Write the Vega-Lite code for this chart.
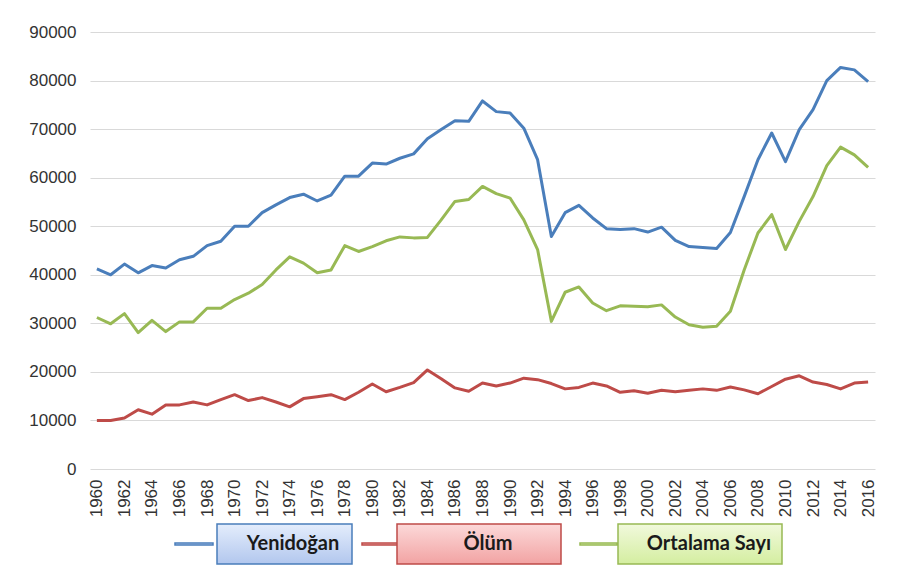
{
  "$schema": "https://vega.github.io/schema/vega-lite/v6.json",
  "width": 785,
  "height": 437,
  "autosize": "none",
  "padding": {"left": 90, "top": 32, "right": 43, "bottom": 114},
  "background": "white",
  "config": {
    "view": {"stroke": null},
    "font": "Liberation Sans",
    "axis": {"labelFont": "Liberation Sans", "labelFontSize": 17, "labelColor": "#333333", "title": null, "ticks": false, "domain": false}
  },
  "data": {
    "values": [
      {"year": 1960, "yenidogan": 41200, "olum": 10000, "ortalama": 31200},
      {"year": 1961, "yenidogan": 40000, "olum": 10000, "ortalama": 29900},
      {"year": 1962, "yenidogan": 42200, "olum": 10500, "ortalama": 32000},
      {"year": 1963, "yenidogan": 40400, "olum": 12200, "ortalama": 28100},
      {"year": 1964, "yenidogan": 41900, "olum": 11300, "ortalama": 30600},
      {"year": 1965, "yenidogan": 41400, "olum": 13200, "ortalama": 28300},
      {"year": 1966, "yenidogan": 43100, "olum": 13200, "ortalama": 30300},
      {"year": 1967, "yenidogan": 43800, "olum": 13800, "ortalama": 30300},
      {"year": 1968, "yenidogan": 46000, "olum": 13200, "ortalama": 33100},
      {"year": 1969, "yenidogan": 46900, "olum": 14300, "ortalama": 33100},
      {"year": 1970, "yenidogan": 50000, "olum": 15300, "ortalama": 34900},
      {"year": 1971, "yenidogan": 50000, "olum": 14100, "ortalama": 36200},
      {"year": 1972, "yenidogan": 52800, "olum": 14700, "ortalama": 38000},
      {"year": 1973, "yenidogan": 54400, "olum": 13800, "ortalama": 41000},
      {"year": 1974, "yenidogan": 55900, "olum": 12800, "ortalama": 43700},
      {"year": 1975, "yenidogan": 56600, "olum": 14500, "ortalama": 42400},
      {"year": 1976, "yenidogan": 55200, "olum": 14900, "ortalama": 40400},
      {"year": 1977, "yenidogan": 56400, "olum": 15300, "ortalama": 41000},
      {"year": 1978, "yenidogan": 60300, "olum": 14300, "ortalama": 46000},
      {"year": 1979, "yenidogan": 60300, "olum": 15800, "ortalama": 44800},
      {"year": 1980, "yenidogan": 63000, "olum": 17500, "ortalama": 45800},
      {"year": 1981, "yenidogan": 62800, "olum": 15900, "ortalama": 47000},
      {"year": 1982, "yenidogan": 64000, "olum": 16800, "ortalama": 47800},
      {"year": 1983, "yenidogan": 64900, "olum": 17800, "ortalama": 47600},
      {"year": 1984, "yenidogan": 68000, "olum": 20400, "ortalama": 47700},
      {"year": 1985, "yenidogan": 69900, "olum": 18600, "ortalama": 51300},
      {"year": 1986, "yenidogan": 71700, "olum": 16700, "ortalama": 55100},
      {"year": 1987, "yenidogan": 71600, "olum": 16000, "ortalama": 55500},
      {"year": 1988, "yenidogan": 75800, "olum": 17700, "ortalama": 58200},
      {"year": 1989, "yenidogan": 73600, "olum": 17100, "ortalama": 56700},
      {"year": 1990, "yenidogan": 73300, "olum": 17700, "ortalama": 55800},
      {"year": 1991, "yenidogan": 70200, "olum": 18700, "ortalama": 51300},
      {"year": 1992, "yenidogan": 63700, "olum": 18400, "ortalama": 45200},
      {"year": 1993, "yenidogan": 47900, "olum": 17600, "ortalama": 30400},
      {"year": 1994, "yenidogan": 52800, "olum": 16500, "ortalama": 36400},
      {"year": 1995, "yenidogan": 54300, "olum": 16800, "ortalama": 37500},
      {"year": 1996, "yenidogan": 51700, "olum": 17700, "ortalama": 34200},
      {"year": 1997, "yenidogan": 49500, "olum": 17100, "ortalama": 32600},
      {"year": 1998, "yenidogan": 49300, "olum": 15800, "ortalama": 33600},
      {"year": 1999, "yenidogan": 49500, "olum": 16100, "ortalama": 33500},
      {"year": 2000, "yenidogan": 48800, "olum": 15600, "ortalama": 33400},
      {"year": 2001, "yenidogan": 49800, "olum": 16200, "ortalama": 33800},
      {"year": 2002, "yenidogan": 47100, "olum": 15900, "ortalama": 31300},
      {"year": 2003, "yenidogan": 45800, "olum": 16200, "ortalama": 29700},
      {"year": 2004, "yenidogan": 45600, "olum": 16500, "ortalama": 29200},
      {"year": 2005, "yenidogan": 45400, "olum": 16200, "ortalama": 29400},
      {"year": 2006, "yenidogan": 48700, "olum": 16900, "ortalama": 32500},
      {"year": 2007, "yenidogan": 56100, "olum": 16300, "ortalama": 41000},
      {"year": 2008, "yenidogan": 63700, "olum": 15500, "ortalama": 48600},
      {"year": 2009, "yenidogan": 69200, "olum": 17000, "ortalama": 52400},
      {"year": 2010, "yenidogan": 63300, "olum": 18500, "ortalama": 45200},
      {"year": 2011, "yenidogan": 69900, "olum": 19200, "ortalama": 51000},
      {"year": 2012, "yenidogan": 74000, "olum": 17900, "ortalama": 56100},
      {"year": 2013, "yenidogan": 80000, "olum": 17400, "ortalama": 62500},
      {"year": 2014, "yenidogan": 82700, "olum": 16500, "ortalama": 66300},
      {"year": 2015, "yenidogan": 82200, "olum": 17700, "ortalama": 64700},
      {"year": 2016, "yenidogan": 79800, "olum": 17900, "ortalama": 62100}
    ]
  },
  "encoding": {
    "x": {
      "field": "year",
      "type": "quantitative",
      "scale": {"domain": [1959.5, 2016.5], "nice": false, "zero": false},
      "axis": {
        "values": [1960,1962,1964,1966,1968,1970,1972,1974,1976,1978,1980,1982,1984,1986,1988,1990,1992,1994,1996,1998,2000,2002,2004,2006,2008,2010,2012,2014,2016],
        "format": "d",
        "labelAngle": -90,
        "labelPadding": 10,
        "grid": false
      }
    }
  },
  "layer": [
    {
      "mark": {"type": "line", "strokeWidth": 3, "strokeJoin": "round"},
      "encoding": {
        "y": {
          "field": "yenidogan",
          "type": "quantitative",
          "scale": {"domain": [0, 90000], "nice": false},
          "axis": {
            "values": [0,10000,20000,30000,40000,50000,60000,70000,80000,90000],
            "format": "d",
            "grid": true,
            "gridColor": "#d9d9d9",
            "gridWidth": 1,
            "labelPadding": 14
          }
        },
        "color": {
          "datum": "Yenidoğan",
          "type": "nominal",
          "scale": {"domain": ["Yenidoğan"], "range": ["#4a7ebb"]},
          "legend": {
            "orient": "none", "legendX": 117, "legendY": 502, "title": null, "padding": 0,
            "symbolType": "M-42,-1L-4,-1L-4,1L-42,1ZM0,-20L135,-20L135,20L0,20Z",
            "symbolSize": 4, "symbolStrokeWidth": 1.5,
            "labelFont": "Lato", "labelFontWeight": "bold", "labelFontSize": 20, "labelColor": "#1a1a1a",
            "labelAlign": "center", "labelOffset": 66, "labelLimit": 300,
            "encoding": {
              "symbols": {
                "fill": {"value": {"gradient": "linear", "x1": 0, "y1": 0, "x2": 0, "y2": 1, "stops": [{"offset": 0, "color": "#e4edfc"}, {"offset": 1, "color": "#b2c7ee"}]}},
                "stroke": {"value": "#5f86c6"},
                "strokeWidth": {"value": 1.5},
                "opacity": {"value": 1}
              }
            }
          }
        }
      }
    },
    {
      "mark": {"type": "line", "strokeWidth": 3, "strokeJoin": "round"},
      "encoding": {
        "y": {"field": "olum", "type": "quantitative", "scale": {"domain": [0, 90000], "nice": false}},
        "color": {
          "datum": "Ölüm",
          "type": "nominal",
          "scale": {"domain": ["Ölüm"], "range": ["#be4b48"]},
          "legend": {
            "orient": "none", "legendX": 297, "legendY": 502, "title": null, "padding": 0,
            "symbolType": "M-35,-1L0,-1L0,1L-35,1ZM0,-20L164,-20L164,20L0,20Z",
            "symbolSize": 4, "symbolStrokeWidth": 1.5,
            "labelFont": "Lato", "labelFontWeight": "bold", "labelFontSize": 20, "labelColor": "#1a1a1a",
            "labelAlign": "center", "labelOffset": 81, "labelLimit": 300,
            "encoding": {
              "symbols": {
                "fill": {"value": {"gradient": "linear", "x1": 0, "y1": 0, "x2": 0, "y2": 1, "stops": [{"offset": 0, "color": "#fcd9d9"}, {"offset": 1, "color": "#f2a3a3"}]}},
                "stroke": {"value": "#be4b48"},
                "strokeWidth": {"value": 1.5},
                "opacity": {"value": 1}
              }
            }
          }
        }
      }
    },
    {
      "mark": {"type": "line", "strokeWidth": 3, "strokeJoin": "round"},
      "encoding": {
        "y": {"field": "ortalama", "type": "quantitative", "scale": {"domain": [0, 90000], "nice": false}},
        "color": {
          "datum": "Ortalama Sayı",
          "type": "nominal",
          "scale": {"domain": ["Ortalama Sayı"], "range": ["#98b954"]},
          "legend": {
            "orient": "none", "legendX": 518, "legendY": 502, "title": null, "padding": 0,
            "symbolType": "M-38,-1L-1,-1L-1,1L-38,1ZM0,-20L164,-20L164,20L0,20Z",
            "symbolSize": 4, "symbolStrokeWidth": 1.5,
            "labelFont": "Lato", "labelFontWeight": "bold", "labelFontSize": 20, "labelColor": "#1a1a1a",
            "labelAlign": "center", "labelOffset": 81, "labelLimit": 300,
            "encoding": {
              "symbols": {
                "fill": {"value": {"gradient": "linear", "x1": 0, "y1": 0, "x2": 0, "y2": 1, "stops": [{"offset": 0, "color": "#f1f9dc"}, {"offset": 1, "color": "#d4eea0"}]}},
                "stroke": {"value": "#98b954"},
                "strokeWidth": {"value": 1.5},
                "opacity": {"value": 1}
              }
            }
          }
        }
      }
    }
  ],
  "resolve": {"scale": {"color": "independent"}, "legend": {"color": "independent"}}
}
